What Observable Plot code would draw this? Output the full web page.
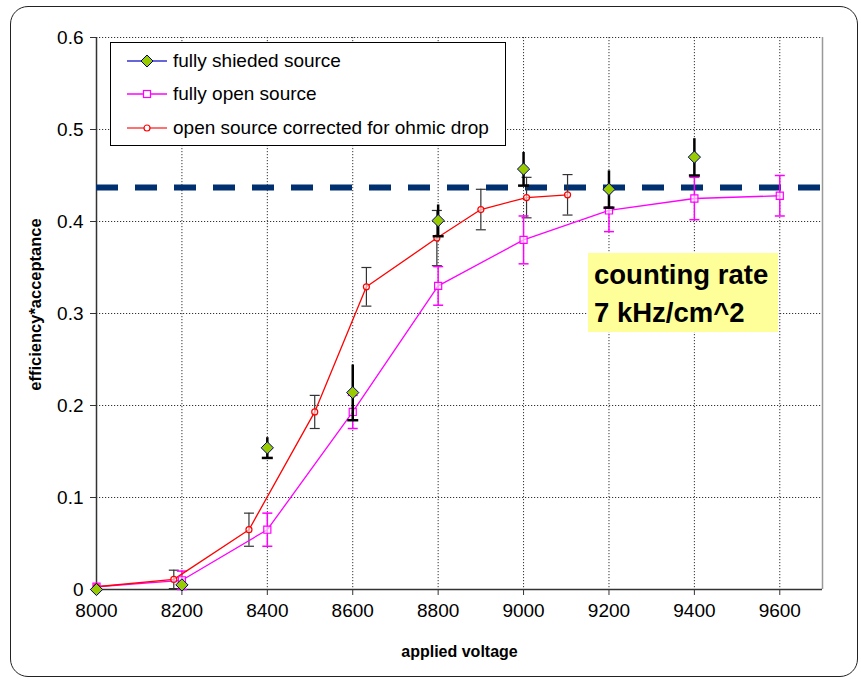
<!DOCTYPE html>
<html>
<head>
<meta charset="utf-8">
<script src="https://cdn.jsdelivr.net/npm/d3@7"></script>
<script src="https://cdn.jsdelivr.net/npm/@observablehq/plot@0.6"></script>
<style>
  body { margin: 0; background: #fff; font-family: "Liberation Sans", Arial, sans-serif; }
  #wrap { position: relative; width: 861px; height: 679px; overflow: hidden; }
  #border { position: absolute; left: 10px; top: 6px; width: 846px; height: 669px; border: 1.5px solid #222; border-radius: 18px; pointer-events: none; }
  #legend { position: absolute; left: 110px; top: 42px; width: 394px; height: 102px; border: 1px solid #000; background: #fff; }
  #legend .item { position: absolute; left: 16px; height: 20px; display: flex; align-items: center; font-size: 19px; color: #000; }
  #legend svg { margin-right: 6px; }
  #note { position: absolute; left: 588px; top: 253px; width: 190px; height: 79px; background: #ffff99; font-weight: bold; font-size: 27.5px; line-height: 38px; padding: 3px 0 0 6px; box-sizing: border-box; color: #000; white-space: nowrap; }
</style>
</head>
<body>
<div id="wrap">
  <div id="chart"></div>
  <div id="legend"></div>
  <div id="note"></div>
  <div id="border"></div>
</div>
<script>
// ---- data ----
const seriesNames = ["fully shieded source", "fully open source", "open source corrected for ohmic drop"];
const noteLines = ["counting rate", "7 kHz/cm^2"];
const xLabel = "applied voltage";
const yLabel = "efficiency*acceptance";
const xTicks = [8000, 8200, 8400, 8600, 8800, 9000, 9200, 9400, 9600];
const yTicks = [0, 0.1, 0.2, 0.3, 0.4, 0.5, 0.6];

const shieldedX = [8000, 8200, 8400, 8600, 8800, 9000, 9200, 9400];
const shieldedY = [0.0, 0.005, 0.154, 0.214, 0.401, 0.457, 0.435, 0.470];
const shieldedErr = [0, 0, 0.011, 0.030, 0.017, 0.018, 0.020, 0.020];

const openX = [8000, 8200, 8400, 8600, 8800, 9000, 9200, 9400, 9600];
const openY = [0.003, 0.010, 0.065, 0.193, 0.330, 0.380, 0.412, 0.425, 0.428];
const openErr = [0, 0.010, 0.018, 0.018, 0.021, 0.026, 0.023, 0.023, 0.022];

const corrX = [8000, 8181, 8357, 8511, 8632, 8797, 8900, 9007, 9103];
const corrY = [0.003, 0.011, 0.065, 0.193, 0.329, 0.382, 0.413, 0.426, 0.429];
const corrErr = [0, 0.010, 0.018, 0.018, 0.021, 0.030, 0.022, 0.022, 0.022];

const plateau = 0.437;

// ---- tables ----
const toRows = (xs, ys, es) => xs.map((x, i) => ({x, y: ys[i], lo: ys[i] - es[i], hi: ys[i] + es[i], e: es[i]}));
const shielded = toRows(shieldedX, shieldedY, shieldedErr);
const open = toRows(openX, openY, openErr);
const corr = toRows(corrX, corrY, corrErr);

const capSymbol = {
  draw(context, size) {
    const r = Math.sqrt(size / Math.PI);
    context.moveTo(-r, 0);
    context.lineTo(r, 0);
  }
};

const font = "Liberation Sans, Arial, sans-serif";

const chart = Plot.plot({
  width: 861,
  height: 679,
  marginLeft: 96,
  marginRight: 39,
  marginTop: 37,
  marginBottom: 90,
  style: {fontFamily: font, background: "transparent", overflow: "visible"},
  x: {domain: [8000, 9700]},
  y: {domain: [0, 0.6]},
  marks: [
    // grid
    Plot.ruleY(yTicks.filter(d => d > 0), {stroke: "#333", strokeDasharray: "1.2,1.8", strokeWidth: 1}),
    Plot.ruleX(xTicks.filter(d => d > 8000), {stroke: "#333", strokeDasharray: "1.2,1.8", strokeWidth: 1}),
    Plot.ruleX([9700], {stroke: "#999", strokeWidth: 1.5}),
    // axes
    Plot.axisY({ticks: yTicks, tickSize: 6, tickPadding: 7, fontSize: 19, tickFormat: d => d === 0 ? "0" : d.toFixed(1), label: null, stroke: "#333"}),
    Plot.axisX({ticks: xTicks, tickSize: 6, tickPadding: 8, fontSize: 19, tickFormat: d => String(d), label: null, stroke: "#333"}),
    Plot.ruleX([8000], {stroke: "#333", strokeWidth: 1.5}),
    Plot.ruleY([0], {stroke: "#333", strokeWidth: 1.5}),
    // plateau
    Plot.ruleY([plateau], {stroke: "#003070", strokeWidth: 6, strokeDasharray: "22,17"}),
    // corrected error bars
    Plot.ruleX(corr.filter(d => d.e > 0), {x: "x", y1: "lo", y2: "hi", stroke: "#333", strokeWidth: 1.2}),
    Plot.dot(corr.filter(d => d.e > 0), {x: "x", y: "lo", symbol: capSymbol, r: 5, stroke: "#333", strokeWidth: 1.2, fill: "none"}),
    Plot.dot(corr.filter(d => d.e > 0), {x: "x", y: "hi", symbol: capSymbol, r: 5, stroke: "#333", strokeWidth: 1.2, fill: "none"}),
    // open error bars
    Plot.ruleX(open.filter(d => d.e > 0), {x: "x", y1: "lo", y2: "hi", stroke: "#ff00ff", strokeWidth: 1.5}),
    Plot.dot(open.filter(d => d.e > 0), {x: "x", y: "lo", symbol: capSymbol, r: 5, stroke: "#ff00ff", strokeWidth: 1.5, fill: "none"}),
    Plot.dot(open.filter(d => d.e > 0), {x: "x", y: "hi", symbol: capSymbol, r: 5, stroke: "#ff00ff", strokeWidth: 1.5, fill: "none"}),
    // lines
    Plot.line(open, {x: "x", y: "y", stroke: "#ff00ff", strokeWidth: 1.3}),
    Plot.line(corr, {x: "x", y: "y", stroke: "#ff0000", strokeWidth: 1.3}),
    Plot.dot(open, {x: "x", y: "y", symbol: "square", r: 4, stroke: "#ff00ff", fill: "#fff", fillOpacity: 0.6, strokeWidth: 1.2}),
    Plot.dot(corr, {x: "x", y: "y", symbol: "circle", r: 3, stroke: "#ff0000", fill: "#fff", fillOpacity: 0.6, strokeWidth: 1.2}),
    // shielded error bars
    Plot.ruleX(shielded.filter(d => d.e > 0), {x: "x", y1: "lo", y2: "hi", stroke: "#000", strokeWidth: 2.5}),
    Plot.dot(shielded.filter(d => d.e > 0), {x: "x", y: "lo", symbol: capSymbol, r: 5.5, stroke: "#000", strokeWidth: 2.5, fill: "none"}),
    Plot.dot(shielded, {x: "x", y: "y", symbol: "diamond2", r: 5.5, fill: "#99cc00", stroke: "#000080", strokeWidth: 1}),
    // axis titles
    Plot.text([xLabel], {frameAnchor: "bottom", dy: 67, text: d => d, fontSize: 16, fontWeight: "bold", fill: "#000", textAnchor: "middle"}),
    Plot.text([yLabel], {frameAnchor: "left", dx: -61, dy: -9, rotate: -90, text: d => d, fontSize: 16.5, fontWeight: "bold", fill: "#000", textAnchor: "middle"})
  ]
});
document.getElementById("chart").appendChild(chart);

document.getElementById("note").innerHTML = noteLines.join("<br>");

// legend
const legend = document.getElementById("legend");
const legendSpecs = [
  {name: seriesNames[0], line: "#3333cc", marker: "diamond"},
  {name: seriesNames[1], line: "#ff00ff", marker: "square"},
  {name: seriesNames[2], line: "#ff4040", marker: "circle"}
];
const tops = [8, 41, 75];
legendSpecs.forEach((s, i) => {
  const div = document.createElement("div");
  div.className = "item";
  div.style.top = tops[i] + "px";
  let m = "";
  if (s.marker === "diamond") m = '<path d="M20,4 L26,10 L20,16 L14,10 Z" fill="#99cc00" stroke="#000080" stroke-width="1"/>';
  if (s.marker === "square") m = '<rect x="16.5" y="6.5" width="7" height="7" fill="#fff" stroke="#ff00ff" stroke-width="1.2"/>';
  if (s.marker === "circle") m = '<circle cx="20" cy="10" r="3" fill="#fff" stroke="#ff0000" stroke-width="1.2"/>';
  div.innerHTML = `<svg width="40" height="20"><line x1="0" y1="10" x2="40" y2="10" stroke="${s.line}" stroke-width="1.3"/>${m}</svg><span>${s.name}</span>`;
  legend.appendChild(div);
});
</script>
</body>
</html>
